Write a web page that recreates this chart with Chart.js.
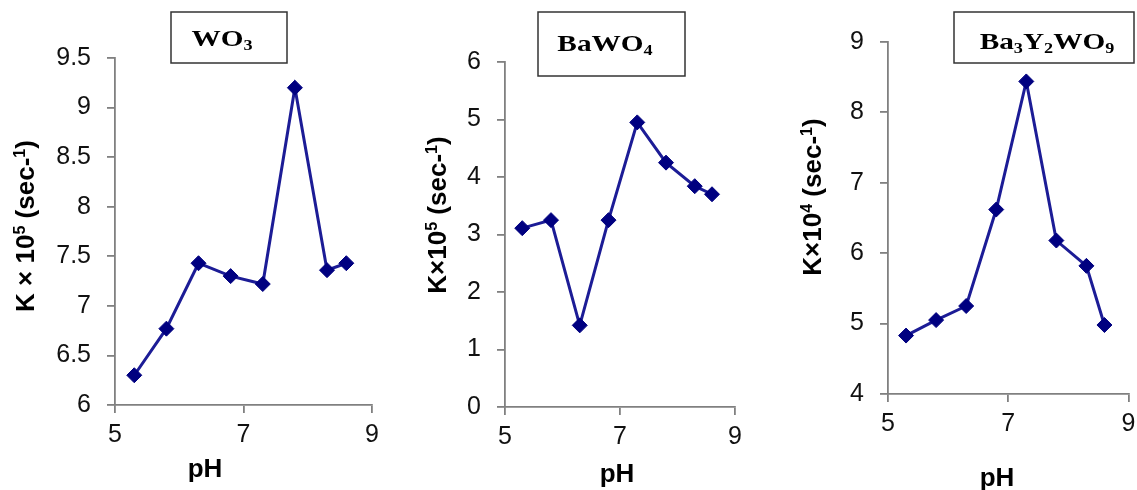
<!DOCTYPE html>
<html><head><meta charset="utf-8">
<script src="https://cdn.jsdelivr.net/npm/chart.js@4.4.1/dist/chart.umd.min.js"></script>
<style>
html,body{margin:0;padding:0;background:#fff;width:1137px;height:490px;overflow:hidden;}
.p{position:absolute;top:0;height:490px;}
canvas{display:block}
</style></head><body>
<div class="p" style="left:0;width:390px"><canvas id="c1" width="390" height="490"></canvas></div>
<div class="p" style="left:390px;width:380px"><canvas id="c2" width="380" height="490"></canvas></div>
<div class="p" style="left:770px;width:367px"><canvas id="c3" width="367" height="490"></canvas></div>
<script>
// ---- data ----
const pH = [5.3, 5.8, 6.3, 6.8, 7.3, 7.8, 8.3, 8.6];
const kWO3 = [6.30, 6.77, 7.43, 7.30, 7.22, 9.20, 7.36, 7.43];
const kBaWO4 = [3.11, 3.25, 1.42, 3.25, 4.95, 4.25, 3.84, 3.70];
const kBa3Y2WO9 = [4.83, 5.05, 5.25, 6.62, 8.44, 6.18, 5.82, 4.98];
const xTicks = [5, 7, 9];
const yTicksWO3 = [6, 6.5, 7, 7.5, 8, 8.5, 9, 9.5];
const yTicksBaWO4 = [0, 1, 2, 3, 4, 5, 6];
const yTicksBa3Y2WO9 = [4, 5, 6, 7, 8, 9];
const xTitle = 'pH';
// text segments: [text, 1 = superscript, -1 = subscript, 0 = normal]
const titleWO3 = [['WO', 0], ['3', -1]];
const titleBaWO4 = [['BaWO', 0], ['4', -1]];
const titleBa3Y2WO9 = [['Ba', 0], ['3', -1], ['Y', 0], ['2', -1], ['WO', 0], ['9', -1]];
const yTitleWO3 = [['K × 10', 0], ['5', 1], [' (sec-', 0], ['1', 1], [')', 0]];
const yTitleBaWO4 = [['K×10', 0], ['5', 1], [' (sec-', 0], ['1', 1], [')', 0]];
const yTitleBa3Y2WO9 = [['K×10', 0], ['4', 1], [' (sec-', 0], ['1', 1], [')', 0]];

// ---- styles ----
const H = 490;
const SANS = '"Liberation Sans", Arial, sans-serif';
const SERIF = '"Liberation Serif", "Times New Roman", serif';
const LINE = '#1c1c96';
const MARK = '#000080';
const AXIS = '#808080';

function drawRich(ctx, segs, size, family, weight, sx) {
  let total = 0;
  const parts = segs.map(([t, s]) => {
    const fs = s ? size * 0.62 : size;
    ctx.font = `${weight} ${fs}px ${family}`;
    const w = ctx.measureText(t).width;
    total += w;
    return { t, s, fs, w };
  });
  ctx.save();
  ctx.scale(sx, 1);
  let x = -total / 2;
  ctx.textBaseline = 'alphabetic';
  ctx.textAlign = 'left';
  for (const p of parts) {
    ctx.font = `${weight} ${p.fs}px ${family}`;
    const dy = p.s > 0 ? -size * 0.36 : (p.s < 0 ? size * 0.16 : 0);
    ctx.fillText(p.t, x, dy);
    x += p.w;
  }
  ctx.restore();
}

function decoPlugin(d) {
  return {
    id: 'deco',
    afterDraw(chart) {
      const ctx = chart.ctx;
      ctx.save();
      ctx.fillStyle = '#000';
      // y title (rotated)
      ctx.save();
      ctx.translate(d.yT[0], d.yT[1]);
      ctx.rotate(-Math.PI / 2);
      ctx.translate(0, 26 * 0.36);
      drawRich(ctx, d.yText, 26, SANS, 'bold', 1);
      ctx.restore();
      // x title
      ctx.save();
      ctx.translate(d.xT[0], d.xT[1] + 26 * 0.36);
      drawRich(ctx, [[xTitle, 0]], 26, SANS, 'bold', 1);
      ctx.restore();
      // title box
      const b = d.box;
      ctx.fillStyle = '#fff';
      ctx.fillRect(b[0], b[1], b[2] - b[0], b[3] - b[1]);
      ctx.strokeStyle = '#333';
      ctx.lineWidth = 1.5;
      ctx.strokeRect(b[0], b[1], b[2] - b[0], b[3] - b[1]);
      ctx.fillStyle = '#000';
      ctx.save();
      ctx.translate(d.tPos[0], d.tPos[1]);
      drawRich(ctx, d.title, 24, SERIF, 'bold', 1.22);
      ctx.restore();
      ctx.restore();
    }
  };
}

function makeChart(id, w, area, ys, yTicks, deco) {
  const el = document.getElementById(id);
  return new Chart(el, {
    type: 'line',
    data: {
      datasets: [{
        data: pH.map((x, i) => ({ x, y: ys[i] })),
        borderColor: LINE,
        borderWidth: 3,
        pointStyle: 'rectRot',
        pointRadius: 7.5,
        pointBackgroundColor: MARK,
        pointBorderColor: MARK,
        pointBorderWidth: 1,
        tension: 0,
        clip: false
      }]
    },
    options: {
      responsive: false,
      animation: false,
      events: [],
      layout: { padding: { left: 0, top: area.top, right: w - area.right, bottom: 0 } },
      plugins: { legend: { display: false }, tooltip: { enabled: false } },
      scales: {
        x: {
          type: 'linear',
          min: xTicks[0], max: xTicks[xTicks.length - 1],
          afterBuildTicks: s => { s.ticks = xTicks.map(v => ({ value: v })); },
          afterFit: s => { s.height = H - area.bottom; s.paddingLeft = 0; s.paddingRight = 0; },
          grid: { display: true, drawOnChartArea: false, drawTicks: true, tickLength: 8, color: AXIS, lineWidth: 1.8 },
          border: { display: true, color: AXIS, width: 1.8 },
          ticks: { font: { family: SANS, size: 25 }, color: '#111', padding: 7, maxRotation: 0, autoSkip: false, callback: v => String(v) }
        },
        y: {
          type: 'linear',
          min: yTicks[0], max: yTicks[yTicks.length - 1],
          afterBuildTicks: s => { s.ticks = yTicks.map(v => ({ value: v })); },
          afterFit: s => { s.width = area.left; s.paddingTop = 0; s.paddingBottom = 0; },
          grid: { display: true, drawOnChartArea: false, drawTicks: true, tickLength: 8, color: AXIS, lineWidth: 1.8 },
          border: { display: true, color: AXIS, width: 1.8 },
          ticks: { font: { family: SANS, size: 25 }, color: '#111', padding: 16, autoSkip: false, callback: v => String(v) }
        }
      }
    },
    plugins: [decoPlugin(deco)]
  });
}

makeChart('c1', 390, { left: 115, right: 372, top: 58, bottom: 405 }, kWO3, yTicksWO3, {
  yT: [25, 226], yText: yTitleWO3, xT: [205, 468],
  box: [171, 12, 287, 63], tPos: [222, 46], title: titleWO3
});
makeChart('c2', 380, { left: 115, right: 345, top: 62, bottom: 407 }, kBaWO4, yTicksBaWO4, {
  yT: [47, 215], yText: yTitleBaWO4, xT: [227, 473],
  box: [148, 12, 295, 76], tPos: [215, 51], title: titleBaWO4
});
makeChart('c3', 367, { left: 118, right: 364, top: 42, bottom: 394 }, kBa3Y2WO9, yTicksBa3Y2WO9, {
  yT: [42, 197], yText: yTitleBa3Y2WO9, xT: [227, 477],
  box: [184, 12, 364, 63], tPos: [277, 49], title: titleBa3Y2WO9
});
</script>
</body></html>
